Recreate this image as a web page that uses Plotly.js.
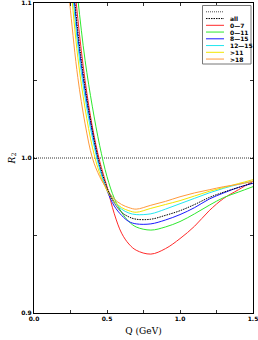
<!DOCTYPE html>
<html>
<head>
<meta charset="utf-8">
<script src="https://cdn.plot.ly/plotly-3.0.1.min.js"></script>
<style>html,body{margin:0;padding:0;background:#fff;}#chart{width:258px;height:340px;}</style>
</head>
<body>
<div id="chart"></div>
<script>
// Q values (GeV)
const Q = [0.22, 0.25, 0.30, 0.35, 0.40, 0.45, 0.50, 0.55, 0.60, 0.65, 0.70, 0.80, 0.90, 1.00, 1.10, 1.20, 1.30, 1.40, 1.50];

// series names
const names = ["all", "0\u20147", "0\u201411", "8\u201415", "12\u201415", ">11", ">18"];

// R2 values
const R_all   = [1.165, 1.133, 1.082, 1.046, 1.018, 0.996, 0.981, 0.971, 0.965, 0.962, 0.9605, 0.9605, 0.963, 0.966, 0.970, 0.9745, 0.978, 0.981, 0.984];
const R_0_7   = [1.175, 1.142, 1.090, 1.050, 1.020, 0.998, 0.9815, 0.964, 0.9515, 0.9445, 0.9405, 0.938, 0.9415, 0.948, 0.956, 0.966, 0.974, 0.9795, 0.985];
const R_0_11  = [1.185, 1.150, 1.103, 1.063, 1.033, 1.008, 0.988, 0.974, 0.965, 0.959, 0.9555, 0.9535, 0.9555, 0.959, 0.964, 0.9695, 0.9745, 0.978, 0.9815];
const R_8_15  = [1.162, 1.130, 1.078, 1.043, 1.016, 0.994, 0.979, 0.969, 0.963, 0.959, 0.9575, 0.9575, 0.960, 0.9635, 0.968, 0.9735, 0.9775, 0.981, 0.9837];
const R_12_15 = [1.155, 1.122, 1.073, 1.039, 1.013, 0.993, 0.980, 0.972, 0.967, 0.9645, 0.9635, 0.964, 0.967, 0.9705, 0.974, 0.9775, 0.9805, 0.983, 0.985];
const R_gt11  = [1.145, 1.113, 1.065, 1.032, 1.007, 0.990, 0.979, 0.972, 0.968, 0.966, 0.965, 0.9675, 0.970, 0.9725, 0.9755, 0.9785, 0.981, 0.9835, 0.986];
const R_gt18  = [1.125, 1.095, 1.052, 1.022, 1.000, 0.988, 0.980, 0.9735, 0.970, 0.968, 0.967, 0.9695, 0.972, 0.975, 0.9775, 0.9795, 0.9815, 0.983, 0.985];

// reference line
const refX = [0, 1.5];
const refY = [1.0, 1.0];

const series = [R_all, R_0_7, R_0_11, R_8_15, R_12_15, R_gt11, R_gt18];
const colors = ["#000000", "#ff2a2a", "#2ee82e", "#1a1aff", "#22e6f0", "#f2e600", "#ff9a3c"];
const dashes = ["1.5px,1px", "solid", "solid", "solid", "solid", "solid", "solid"];

const traces = [];
traces.push({x: refX, y: refY, mode: "lines", line: {color: "#000", width: 0.8, dash: "1px,1px"}, hoverinfo: "skip"});
// draw order: coloured first, black "all" on top
const order = [1, 2, 3, 4, 5, 6, 0];
order.forEach(i => {
  traces.push({x: Q, y: series[i], mode: "lines", name: names[i],
    line: {color: colors[i], width: 1, shape: "spline", smoothing: 1, dash: dashes[i]}});
});

// custom compact legend (paper coords)
const legLabels = [""].concat(names);
const legColors = ["#000"].concat(colors);
const legDashes = ["1px,1px"].concat(dashes);
const plotTop = 3, plotH = 310, plotL = 34, plotW = 219;
const py = p => (plotTop + plotH - p) / plotH;
const px = p => (p - plotL) / plotW;
const shapes = [{type: "rect", xref: "paper", yref: "paper", x0: px(202.5), x1: px(251), y0: py(64), y1: py(5.5),
  line: {color: "#777", width: 1}, fillcolor: "#fff"}];
const annotations = [];
legLabels.forEach((lab, i) => {
  const yy = 11.8 + 6.75 * i;
  shapes.push({type: "line", xref: "paper", yref: "paper", x0: px(206), x1: px(224), y0: py(yy), y1: py(yy),
    line: {color: legColors[i], width: i === 0 ? 0.7 : 1, dash: legDashes[i]}});
  if (lab) annotations.push({xref: "paper", yref: "paper", x: px(227.5), y: py(yy), text: lab, showarrow: false,
    xanchor: "left", yanchor: "middle", font: {family: "DejaVu Sans", size: 6, color: "#000", weight: "bold"}});
});

const tickFont = {family: "DejaVu Sans", size: 6, color: "#000", weight: "bold"};
const layout = {
  width: 258, height: 340,
  margin: {l: 34, r: 5, t: 3, b: 27, pad: 0},
  paper_bgcolor: "#fff", plot_bgcolor: "#fff",
  showlegend: false,
  font: {family: "DejaVu Sans", size: 6, color: "#000"},
  xaxis: {range: [0, 1.5], dtick: 0.5, tick0: 0, tickformat: ".1f", ticks: "inside", ticklen: 3, tickwidth: 0.8, tickcolor: "#000",
    minor: {dtick: 0.25, tick0: 0, ticks: "inside", ticklen: 3, tickwidth: 0.8, tickcolor: "#000", showgrid: false},
    showline: true, linecolor: "#000", linewidth: 1, mirror: "ticks", showgrid: false, zeroline: false,
    ticklabeloverflow: "allow", tickfont: tickFont,
    title: {text: "Q (GeV)", font: {family: "DejaVu Serif", size: 9, color: "#000"}, standoff: 6}},
  yaxis: {range: [0.9, 1.1], dtick: 0.1, tick0: 0.9, tickformat: ".1f", ticks: "inside", ticklen: 3, tickwidth: 0.8, tickcolor: "#000",
    minor: {dtick: 0.05, tick0: 0.9, ticks: "inside", ticklen: 3, tickwidth: 0.8, tickcolor: "#000", showgrid: false},
    showline: true, linecolor: "#000", linewidth: 1, mirror: "ticks", showgrid: false, zeroline: false,
    ticklabeloverflow: "allow", tickfont: tickFont,
    title: {text: "<i>R</i><sub>2</sub>", font: {family: "DejaVu Serif", size: 9, color: "#000"}, standoff: 4}},
  shapes: shapes,
  annotations: annotations
};

Plotly.newPlot("chart", traces, layout, {staticPlot: true, displayModeBar: false});
</script>
</body>
</html>
